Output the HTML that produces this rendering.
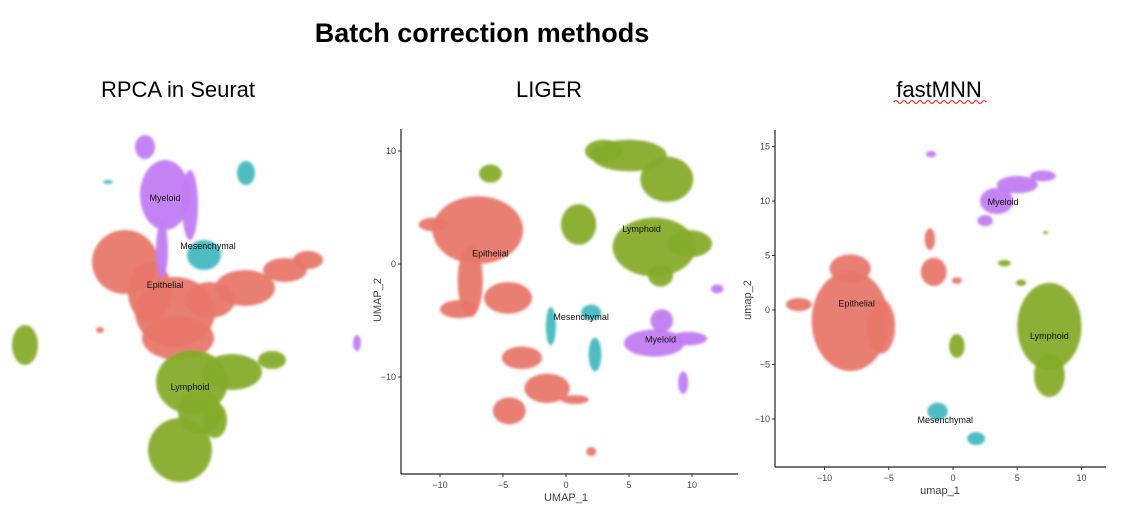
<!DOCTYPE html>
<html><head><meta charset="utf-8">
<style>
body{margin:0;background:#fff;}
svg{display:block;font-family:"Liberation Sans",sans-serif;}
</style></head>
<body>
<svg id="s" width="1123" height="508" viewBox="0 0 1123 508" xmlns="http://www.w3.org/2000/svg">
<defs><filter id="fz" x="-20%" y="-20%" width="140%" height="140%"><feGaussianBlur stdDeviation="1.2"/></filter></defs>
<text x="482" y="42" text-anchor="middle" font-size="27" font-weight="bold">Batch correction methods</text>
<text x="178" y="97" text-anchor="middle" font-size="22">RPCA in Seurat</text>
<text x="549" y="97" text-anchor="middle" font-size="22">LIGER</text>
<text x="939" y="97" text-anchor="middle" font-size="22">fastMNN</text>
<path d="M894 102 q2 -3 4 0 t4 0 t4 0 t4 0 t4 0 t4 0 t4 0 t4 0 t4 0 t4 0 t4 0 t4 0 t4 0 t4 0 t4 0 t4 0 t4 0 t4 0 t4 0 t4 0 t4 0 t4 0 t4 0" stroke="#d33" stroke-width="1.2" fill="none"/>
<g id="p1"></g>
<g id="p2"></g>
<g id="p3"></g>
</svg>
<script>
const COL={epi:"#E8776C",lym:"#86AC2C",mes:"#45B8C0",mye:"#C17CF2"};
// cluster blobs: [cluster, x, y, rx, ry] in each panel's coordinate units
const rpcaBlobs=[
["epi",125,262,33,32],["epi",150,292,22,30],["epi",175,312,40,35],["epi",178,338,36,22],["epi",210,300,25,18],["epi",245,288,30,18],["epi",285,270,22,12],["epi",308,260,15,9],["epi",100,330,4,3],
["lym",192,382,36,32],["lym",200,412,22,22],["lym",232,372,30,18],["lym",272,360,14,9],["lym",180,450,32,32],["lym",215,420,12,18],["lym",25,345,13,20],
["mye",165,195,25,35],["mye",145,147,10,12],["mye",162,250,6,28],["mye",190,205,8,35],["mye",357,343,4,8],
["mes",204,255,17,15],["mes",246,173,9,12],["mes",108,182,5,2]];
const rpcaLabels=[["Myeloid",165,197],["Mesenchymal",208,245],["Epithelial",165,284],["Lymphoid",190,386]];

const ligerBlobs=[
["epi",-7,3,3.6,3],["epi",-4.6,-3,1.9,1.4],["epi",-7.6,-1.5,1,3.2],["epi",-8.5,-4,1.5,0.8],["epi",-10.5,3.5,1.2,0.6],
["epi",-1.5,-11,1.8,1.3],["epi",-4.5,-13,1.3,1.2],["epi",-3.5,-8.3,1.6,1],["epi",2,-16.6,0.4,0.4],["epi",0.7,-12,1.1,0.4],
["lym",-6,8,0.9,0.8],["lym",3,10,1.5,1],["lym",5,9.6,3,1.4],["lym",8,7.5,2.1,2],["lym",1,3.5,1.4,1.8],["lym",7,1.5,3.3,2.6],["lym",9.8,1.8,1.8,1.2],["lym",7.5,-1,1,1],
["mes",-1.2,-5.5,0.4,1.7],["mes",2.3,-8,0.5,1.5],["mes",2,-4.3,0.8,0.7],
["mye",7,-7,2.4,1.2],["mye",9.7,-6.6,1.5,0.6],["mye",7.6,-5,0.9,1],["mye",9.3,-10.5,0.4,1],["mye",12,-2.2,0.5,0.4]];
const ligerLabels=[["Epithelial",-6,1],["Lymphoid",6,3.2],["Mesenchymal",1.2,-4.6],["Myeloid",7.5,-6.6]];
const ligerXTicks=[-10,-5,0,5,10];
const ligerYTicks=[-10,0,10];

const mnnBlobs=[
["epi",-8,-1,3,4.6],["epi",-5.6,-1.5,1.1,2.5],["epi",-12,0.5,1,0.6],["epi",-8,3.8,1.6,1.3],
["epi",-1.8,6.5,0.4,1],["epi",-1.5,3.5,1,1.3],["epi",0.3,2.7,0.4,0.3],
["mye",-1.7,14.3,0.4,0.3],["mye",3.4,10,1.3,1.2],["mye",5,11.5,1.6,0.8],["mye",7,12.3,1,0.5],["mye",2.5,8.2,0.6,0.5],
["lym",7.5,-1.5,2.5,4],["lym",7.5,-6,1.2,2],["lym",0.3,-3.3,0.6,1.1],["lym",5.3,2.5,0.4,0.3],["lym",4,4.3,0.5,0.3],["lym",7.2,7.1,0.2,0.15],
["mes",-1.2,-9.3,0.8,0.8],["mes",1.8,-11.8,0.7,0.6]];
const mnnLabels=[["Myeloid",3.9,10],["Epithelial",-7.5,0.7],["Lymphoid",7.5,-2.3],["Mesenchymal",-0.6,-10]];
const mnnXTicks=[-10,-5,0,5,10];
const mnnYTicks=[-10,-5,0,5,10,15];

const NS="http://www.w3.org/2000/svg";
function mk(tag,attrs,parent){const e=document.createElementNS(NS,tag);for(const k in attrs)e.setAttribute(k,attrs[k]);parent.appendChild(e);return e;}

function panel(g,blobs,labels,sx,sy,kx,ky,axis){
  const blobG=mk("g",{filter:"url(#fz)"},g);
  
  
  blobs.forEach(b=>{
    const e=mk("ellipse",{cx:sx(b[1]),cy:sy(b[2]),rx:Math.abs(b[3]*kx),ry:Math.abs(b[4]*ky),fill:COL[b[0]],"fill-opacity":0.95},blobG);
    
    
  });
  labels.forEach(l=>{
    const t=mk("text",{x:sx(l[1]),y:sy(l[2])+4,"text-anchor":"middle","font-size":9,fill:"#111"},g);
    t.textContent=l[0];
    
    
  });
  if(!axis)return;
  const a=mk("g",{},g);
  
  
  mk("line",{x1:axis.x0,y1:axis.top,x2:axis.x0,y2:axis.y0,stroke:"#222","stroke-width":1.2},a);
  mk("line",{x1:axis.x0,y1:axis.y0,x2:axis.right,y2:axis.y0,stroke:"#222","stroke-width":1.2},a);
  axis.xt.forEach(v=>{
    mk("line",{x1:sx(v),x2:sx(v),y1:axis.y0,y2:axis.y0+3,stroke:"#333"},a);
    const t=mk("text",{x:sx(v),y:axis.y0+14,"text-anchor":"middle","font-size":9,fill:"#444"},a);
    t.textContent=v<0?"\u2212"+(-v):v;
    
    
  });
  axis.yt.forEach(v=>{
    mk("line",{x1:axis.x0-3,x2:axis.x0,y1:sy(v),y2:sy(v),stroke:"#333"},a);
    const t=mk("text",{x:axis.x0-5,y:sy(v)+3,"text-anchor":"end","font-size":9,fill:"#444"},a);
    t.textContent=v<0?"\u2212"+(-v):v;
    
    
  });
  const xl=mk("text",{x:axis.xlx,y:axis.y0+27,"text-anchor":"middle","font-size":11,fill:"#444"},a);
  xl.textContent=axis.xl;
  
  
  const yl=mk("text",{x:0,y:0,"text-anchor":"middle","font-size":11,fill:"#444",transform:`translate(${axis.ylx},${axis.yly}) rotate(-90)`},a);
  yl.textContent=axis.yl;
  
  
}
// RPCA: pixel units
panel(document.getElementById("p1"),rpcaBlobs,rpcaLabels,x=>x,y=>y,1,1,null);
// LIGER
const lx=v=>566+v*12.6, ly=v=>264-v*11.3;
panel(document.getElementById("p2"),ligerBlobs,ligerLabels,lx,ly,12.6,11.3,
 {x0:401,y0:474,top:129,right:738,xt:ligerXTicks,yt:ligerYTicks,xl:"UMAP_1",xlx:566,yl:"UMAP_2",ylx:381,yly:300});
// fastMNN
const mx=v=>953+v*12.85, my=v=>310-v*10.9;
panel(document.getElementById("p3"),mnnBlobs,mnnLabels,mx,my,12.85,10.9,
 {x0:775,y0:467,top:130,right:1106,xt:mnnXTicks,yt:mnnYTicks,xl:"umap_1",xlx:940,yl:"umap_2",ylx:751,yly:300});
</script>
</body></html>
